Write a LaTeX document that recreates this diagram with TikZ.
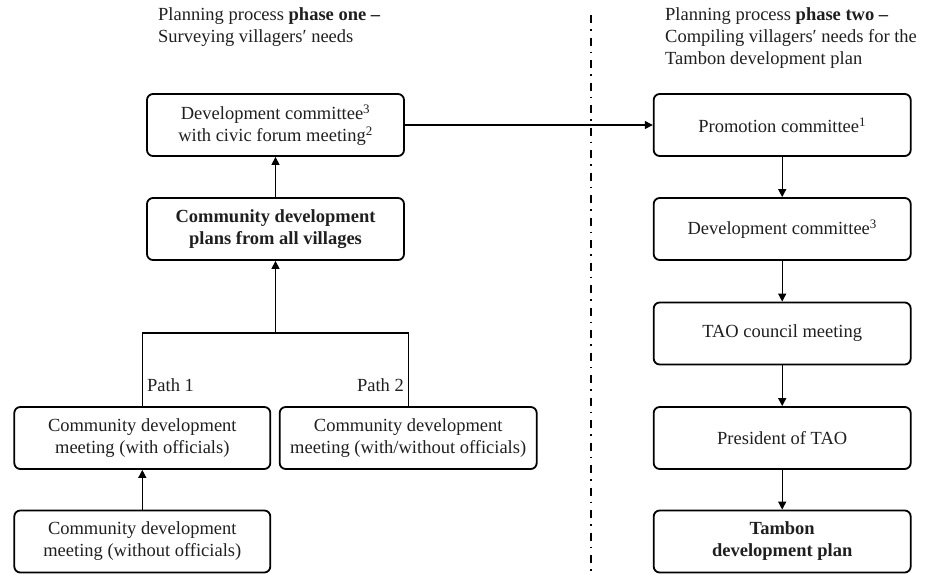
\documentclass[tikz,border=0pt]{standalone}
\usepackage{fontspec}
\setmainfont{Liberation Serif}
\usetikzlibrary{arrows.meta}
\begin{document}
\begin{tikzpicture}[x=1pt,y=-1pt,
  box/.style={draw, line width=1.8pt, rounded corners=6pt, minimum width=257pt, minimum height=62pt, align=center, inner sep=0pt, font=\fontsize{18.5}{22}\selectfont, text=black!88},
  arr/.style={line width=1.3pt, -{Triangle[length=8pt,width=8pt]}},
  conn/.style={line width=1.3pt},
  head/.style={anchor=north west, align=left, inner sep=0pt, font=\fontsize{18.5}{22}\selectfont, text=black!88},
  lbl/.style={inner sep=0pt, font=\fontsize{18.5}{22}\selectfont, text=black!88}
]
\useasboundingbox (0,0) rectangle (926,573);
% headings
\node[head] (h1) at (158,7) {Planning process \textbf{phase one –}\\Surveying villagers′ needs};
\node[head] (h2) at (665,7) {Planning process \textbf{phase two –}\\Compiling villagers′ needs for the\\Tambon development plan};
% divider
\coordinate (dtop) at (591,15);
\coordinate (dbot) at (591,573);
\draw[line width=2pt, dash pattern=on 8pt off 6pt on 1.5pt off 7pt] (dtop) -- (dbot);
% left column
\node[box] (b1) at (275.5,125) {Development committee\textsuperscript{3}\\with civic forum meeting\textsuperscript{2}};
\node[box] (b2) at (275.5,229) {\textbf{Community development}\\\textbf{plans from all villages}};
\node[box, minimum width=256pt] (b3) at (142.3,438) {Community development\\meeting (with officials)};
\node[box, minimum width=257pt] (b4) at (408.2,438) {Community development\\meeting (with/without officials)};
\node[box, minimum width=256pt] (b5) at (142.3,541.5) {Community development\\meeting (without officials)};
% right column
\node[box] (r1) at (782.2,125) {Promotion committee\textsuperscript{1}};
\node[box] (r2) at (782.2,229) {Development committee\textsuperscript{3}};
\node[box] (r3) at (782.2,333.5) {TAO council meeting};
\node[box] (r4) at (782.2,438) {President of TAO};
\node[box] (r5) at (782.2,541.5) {\textbf{Tambon}\\\textbf{development plan}};
% connectors
\coordinate (j) at (275.5,333);
\draw[arr] (b2) -- (b1);
\draw[arr] (j) -- (b2);
\draw[conn] (b3.north) |- (j) -| (b4.north);
\draw[arr] (b5) -- (b3);
\draw[arr] (b1) -- (r1);
\draw[arr] (r1) -- (r2);
\draw[arr] (r2) -- (r3);
\draw[arr] (r3) -- (r4);
\draw[arr] (r4) -- (r5);
% path labels
\node[lbl, anchor=west] (p1) at (147,385) {Path 1};
\node[lbl, anchor=east] (p2) at (404,385) {Path 2};
\end{tikzpicture}
\end{document}
